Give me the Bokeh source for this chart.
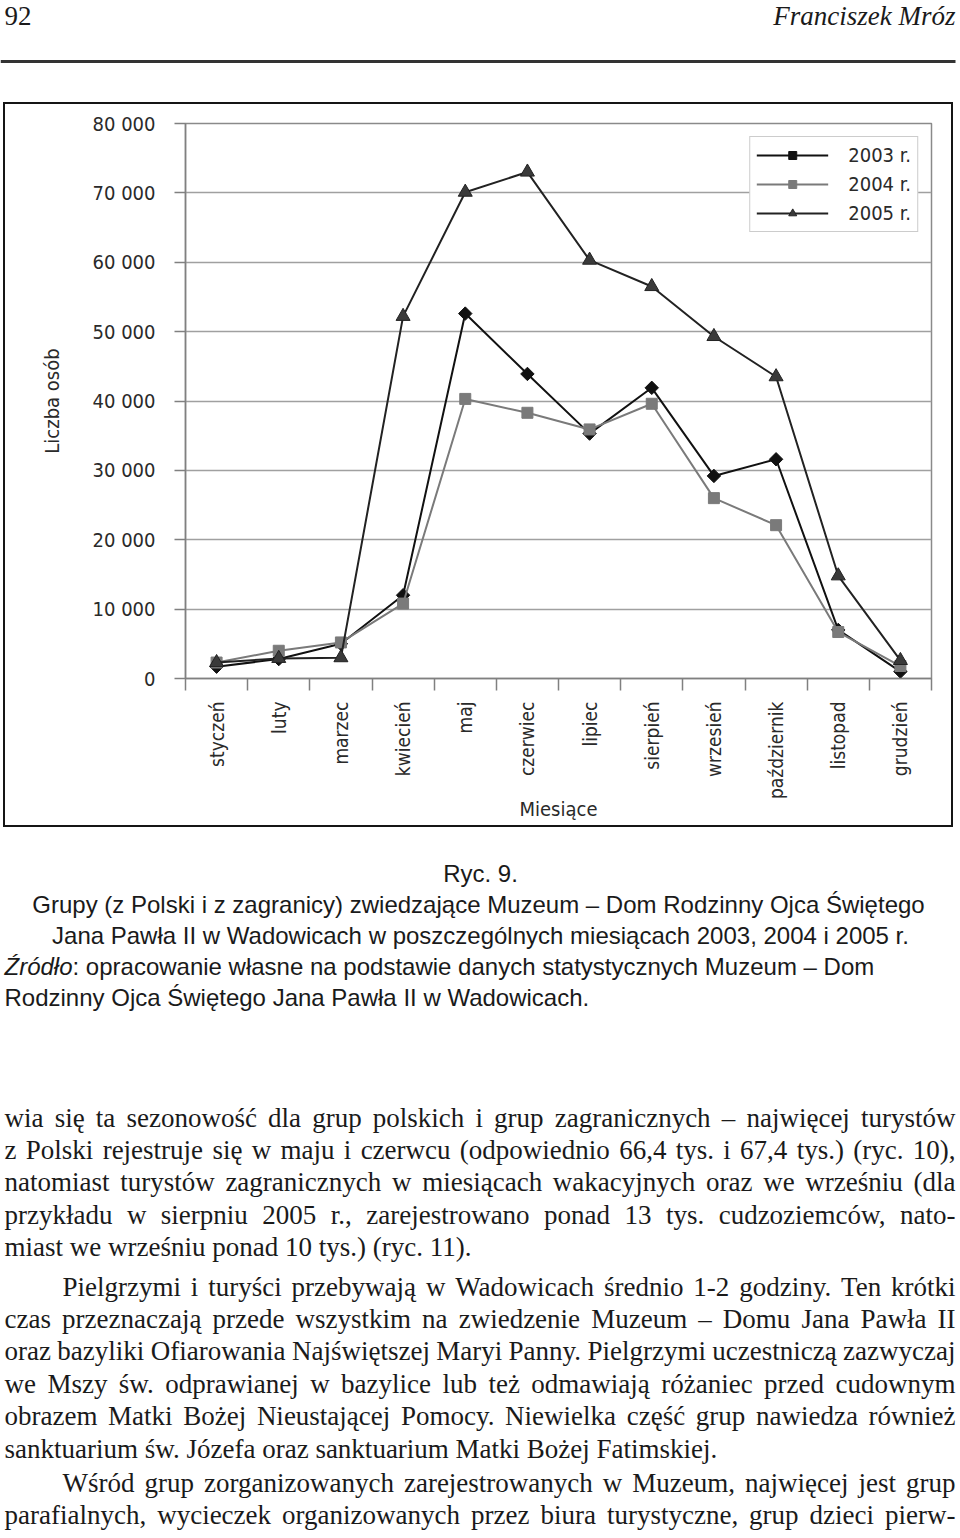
import glob, os, math
from bokeh.plotting import figure
from bokeh.models import Range1d, FixedTicker, Legend, LegendItem
from bokeh.layouts import column
from bokeh.embed import file_html
from bokeh.resources import INLINE
from bokeh.core.properties import value

# ---------------- data ----------------
months = ["styczeń", "luty", "marzec", "kwiecień", "maj", "czerwiec", "lipiec",
          "sierpień", "wrzesień", "październik", "listopad", "grudzień"]
visitors_2003 = [1700, 2800, 5000, 12000, 52600, 43900, 35300, 41900, 29200, 31600, 7000, 1000]
visitors_2004 = [2300, 4000, 5200, 10800, 40300, 38300, 35900, 39600, 26000, 22100, 6700, 1800]
visitors_2005 = [2300, 2900, 3000, 52200, 70100, 73000, 60300, 56500, 49300, 43500, 14800, 2600]
series_labels = ["2003 r.", "2004 r.", "2005 r."]
y_ticks = [0, 10000, 20000, 30000, 40000, 50000, 60000, 70000, 80000]
y_tick_labels = ["0", "10 000", "20 000", "30 000", "40 000", "50 000", "60 000", "70 000", "80 000"]
y_axis_title = "Liczba osób"
x_axis_title = "Miesiące"

header_left = "92"
header_right = "Franciszek Mróz"
caption_center = [
    "Ryc. 9.",
    "Grupy (z Polski i z zagranicy) zwiedzające Muzeum – Dom Rodzinny Ojca Świętego",
    "Jana Pawła II w Wadowicach w poszczególnych miesiącach 2003, 2004 i 2005 r.",
]
caption_source_italic = "Źródło"
caption_source_rest = [": opracowanie własne na podstawie danych statystycznych Muzeum – Dom",
                       "Rodzinny Ojca Świętego Jana Pawła II w Wadowicach."]
para1 = [
    "wia się ta sezonowość dla grup polskich i grup zagranicznych – najwięcej turystów",
    "z Polski rejestruje się w maju i czerwcu (odpowiednio 66,4 tys. i 67,4 tys.) (ryc. 10),",
    "natomiast turystów zagranicznych w miesiącach wakacyjnych oraz we wrześniu (dla",
    "przykładu w sierpniu 2005 r., zarejestrowano ponad 13 tys. cudzoziemców, nato-",
    "miast we wrześniu ponad 10 tys.) (ryc. 11).",
]
para2 = [
    "Pielgrzymi i turyści przebywają w Wadowicach średnio 1-2 godziny. Ten krótki",
    "czas przeznaczają przede wszystkim na zwiedzenie Muzeum – Domu Jana Pawła II",
    "oraz bazyliki Ofiarowania Najświętszej Maryi Panny. Pielgrzymi uczestniczą zazwyczaj",
    "we Mszy św. odprawianej w bazylice lub też odmawiają różaniec przed cudownym",
    "obrazem Matki Bożej Nieustającej Pomocy. Niewielka część grup nawiedza również",
    "sanktuarium św. Józefa oraz sanktuarium Matki Bożej Fatimskiej.",
]
para3 = [
    "Wśród grup zorganizowanych zarejestrowanych w Muzeum, najwięcej jest grup",
    "parafialnych, wycieczek organizowanych przez biura turystyczne, grup dzieci pierw-",
]

# ---------------- helpers ----------------
W = 956
NARROW = "DejaVu Sans Condensed, Liberation Sans, sans-serif"
SANS = "Liberation Sans"
SERIF = "Liberation Serif"
INK = "#1a1a1a"


def find_font(fname):
    for root in ["/usr/share/fonts", "/usr/local/share/fonts", os.path.expanduser("~/.fonts"),
                 os.path.expanduser("~/.local/share/fonts")]:
        hits = glob.glob(os.path.join(root, "**", fname), recursive=True)
        if hits:
            return hits[0]
    return None


def measurer(fname, size):
    try:
        from PIL import ImageFont
        path = find_font(fname)
        if path is None:
            return None
        f = ImageFont.truetype(path, size)
        return lambda s: f.getlength(s)
    except Exception:
        return None


def text_fig(h):
    f = figure(width=W, height=h, x_range=Range1d(0, W), y_range=Range1d(h, 0),
               output_backend="svg", toolbar_location=None, min_border=0,
               x_axis_location=None, y_axis_location=None)
    f.frame_align = False
    f.grid.visible = False
    f.outline_line_color = None
    f.background_fill_color = "white"
    f.border_fill_color = "white"
    return f


# ---------------- header ----------------
hdr = text_fig(102)
hdr.text(x=[4], y=[15], text=[header_left], text_font=value(SERIF), text_font_size="27px",
         text_align="left", text_baseline="middle", text_color=INK)
hdr.text(x=[955], y=[15], text=[header_right], text_font=value(SERIF), text_font_size="27px",
         text_font_style="italic", text_align="right", text_baseline="middle", text_color=INK)
hdr.segment(x0=[0], y0=[61], x1=[955], y1=[61], line_color="#333333", line_width=3)

# ---------------- chart ----------------
x_pos = list(range(1, len(months) + 1))
p = figure(width=950, height=725, x_range=Range1d(0.5, len(months) + 0.5),
           y_range=Range1d(y_ticks[0], y_ticks[-1]),
           output_backend="svg", toolbar_location=None,
           min_border_left=180, min_border_right=24, min_border_top=19, min_border_bottom=151)
p.frame_align = False
p.styles = {"border": "2px solid #151515", "margin-left": "3px"}
p.background_fill_color = "white"
p.border_fill_color = "white"
p.outline_line_color = "#8a8a8a"
p.outline_line_width = 1.5
p.xgrid.visible = False
p.ygrid.grid_line_color = "#a0a0a0"
p.ygrid.grid_line_width = 1.5

p.yaxis.ticker = FixedTicker(ticks=y_ticks)
p.yaxis.major_label_overrides = dict(zip(y_ticks, y_tick_labels))
p.yaxis.minor_tick_line_color = None
p.yaxis.major_tick_in = 0
p.yaxis.major_tick_out = 11
p.yaxis.major_label_standoff = 19
p.yaxis.axis_label = y_axis_title
p.yaxis.axis_label_standoff = 26

p.xaxis.ticker = FixedTicker(ticks=x_pos, minor_ticks=[i + 0.5 for i in range(len(months) + 1)])
p.xaxis.major_label_overrides = dict(zip(x_pos, months))
p.xaxis.major_label_orientation = math.pi / 2
p.xaxis.major_tick_line_color = None
p.xaxis.major_tick_in = 0
p.xaxis.major_tick_out = 0
p.xaxis.minor_tick_in = 0
p.xaxis.minor_tick_out = 12
p.xaxis.major_label_standoff = 11
p.xaxis.axis_label = x_axis_title
p.xaxis.axis_label_standoff = -5

for ax in (p.xaxis, p.yaxis):
    ax.axis_line_color = "#808080"
    ax.axis_line_width = 1.5
    ax.major_tick_line_width = 1.5
    ax.minor_tick_line_width = 1.5
    ax.major_label_text_font = NARROW
    ax.major_label_text_font_size = "20px"
    ax.major_label_text_color = "#2a2a2a"
    ax.axis_label_text_font = NARROW
    ax.axis_label_text_font_size = "20px"
    ax.axis_label_text_font_style = "normal"
    ax.axis_label_text_color = "#2a2a2a"
p.xaxis.major_label_text_font_size = "19px"
p.yaxis.major_tick_line_color = "#808080"
p.xaxis.minor_tick_line_color = "#808080"

l03 = p.line(x_pos, visitors_2003, line_color="#111111", line_width=2)
m03 = p.scatter(x_pos, visitors_2003, marker="square", angle=math.pi / 4, size=9.5,
                fill_color="#111111", line_color="#111111")
l04 = p.line(x_pos, visitors_2004, line_color="#7a7a7a", line_width=2)
m04 = p.scatter(x_pos, visitors_2004, marker="square", size=11,
                fill_color="#7a7a7a", line_color="#7a7a7a")
l05 = p.line(x_pos, visitors_2005, line_color="#222222", line_width=2)
m05 = p.scatter(x_pos, visitors_2005, marker="triangle", size=14,
                fill_color="#3a3a3a", line_color="#222222")

legend = Legend(items=[LegendItem(label=series_labels[0], renderers=[l03, m03]),
                       LegendItem(label=series_labels[1], renderers=[l04, m04]),
                       LegendItem(label=series_labels[2], renderers=[l05, m05])],
                location="top_right", margin=13, padding=6, spacing=5,
                glyph_width=72, glyph_height=20, label_height=20, label_standoff=20,
                label_text_font=NARROW, label_text_font_size="20px", label_text_color="#2a2a2a",
                border_line_color="#9a9a9a", border_line_width=1.5,
                background_fill_color="white", background_fill_alpha=1)
p.add_layout(legend)

# ---------------- caption + body text ----------------
TH = 703
OFF = 827  # page y of the top of this figure
txt = text_fig(TH)
CAP_SIZE = 24
cap_y = [y - OFF for y in (873, 904, 935, 966, 997)]
txt.text(x=[480, 478, 480], y=cap_y[:3], text=caption_center, text_font=value(SANS),
         text_font_size=f"{CAP_SIZE}px", text_align="center", text_baseline="middle", text_color=INK)
mi = measurer("LiberationSans-Italic.ttf", CAP_SIZE)
w_it = mi(caption_source_italic) if mi else 68
txt.text(x=[4], y=[cap_y[3]], text=[caption_source_italic], text_font=value(SANS),
         text_font_size=f"{CAP_SIZE}px", text_font_style="italic", text_align="left",
         text_baseline="middle", text_color=INK)
txt.text(x=[4 + w_it, 4], y=cap_y[3:], text=caption_source_rest, text_font=value(SANS),
         text_font_size=f"{CAP_SIZE}px", text_align="left", text_baseline="middle", text_color=INK)

BODY_SIZE = 27
meas = measurer("LiberationSerif-Regular.ttf", BODY_SIZE)
LEFT, RIGHT, INDENT = 4, 955, 62
xs, ys, ts = [], [], []


def place_paragraph(lines, y0, indent_first, last_justified=False):
    for i, line in enumerate(lines):
        y = y0 + i * 32.4
        left = indent_first if (i == 0 and indent_first) else LEFT
        justify = (i < len(lines) - 1) or last_justified
        words = line.split(" ")
        if justify and meas is not None and len(words) > 1:
            widths = [meas(w) for w in words]
            gap = (RIGHT - left - sum(widths)) / (len(words) - 1)
            gap = max(gap, meas(" ") * 0.6)
            x = left
            for w, ww in zip(words, widths):
                xs.append(x); ys.append(y); ts.append(w)
                x += ww + gap
        else:
            xs.append(left); ys.append(y); ts.append(line)


place_paragraph(para1, 1117 - OFF, 0)
place_paragraph(para2, 1286 - OFF, INDENT)
place_paragraph(para3, 1482 - OFF, INDENT, last_justified=True)
txt.text(x=xs, y=ys, text=ts, text_font=value(SERIF), text_font_size=f"{BODY_SIZE}px",
         text_align="left", text_baseline="middle", text_color=INK)

layout = column(hdr, p, txt, spacing=0)
open("out.html", "w").write(file_html(layout, INLINE))
